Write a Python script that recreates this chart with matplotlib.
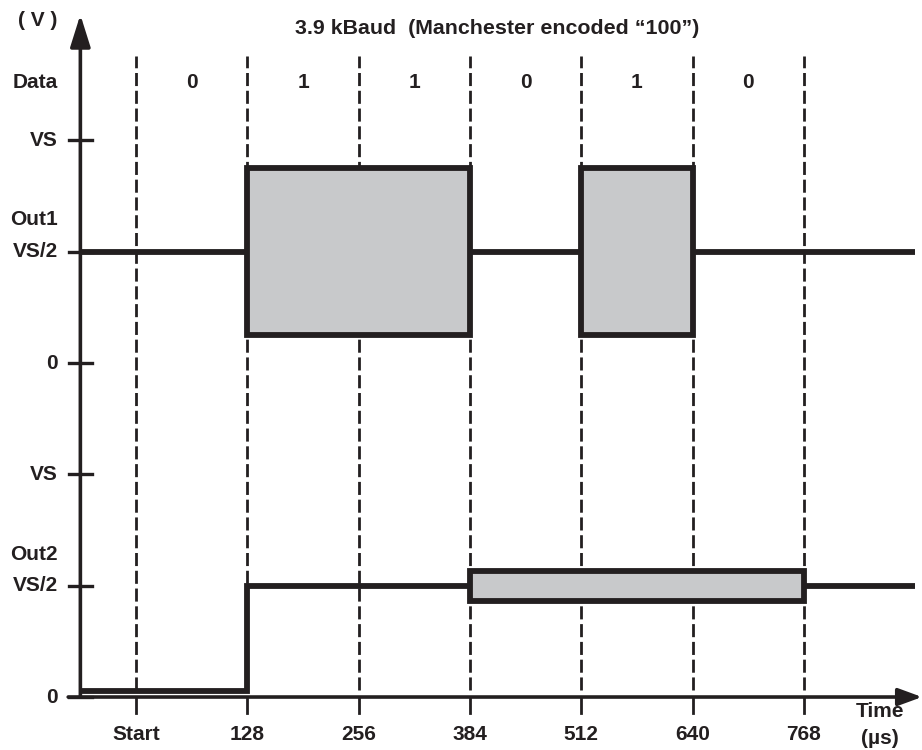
import matplotlib.pyplot as plt
from matplotlib.patches import Rectangle

plt.rcParams['font.family'] = ['Liberation Sans', 'DejaVu Sans']
plt.rcParams['font.weight'] = 'bold'

ink = '#231f20'
fill = '#c8c9cb'

# time axis (µs)
bit_edges = [0, 128, 256, 384, 512, 640, 768]
tick_labels = ['Start', '128', '256', '384', '512', '640', '768']
data_bits = ['0', '1', '1', '0', '1', '0']

# vertical levels (Out2 at 0..2, Out1 at 3..5)
y_levels = [0, 1, 2, 3, 4, 5]
y_labels = ['0', 'VS/2', 'VS', '0', 'VS/2', 'VS']

t_axis = -64
t_end = 896

out1_mid = 4.0
out1_swing = 0.75
out1_windows = [(128, 384), (512, 640)]

out2_low = 0.05
out2_mid = 1.0
out2_step = 128
out2_swing = 0.135
out2_window = (384, 768)

fs = 15

fig = plt.figure(figsize=(9.22, 7.5), dpi=100)
ax = fig.add_axes([0, 0, 1, 1])
ax.set_xlim(-156.4, 903.7)
ax.set_ylim(-0.476, 6.262)
ax.axis('off')

# dashed bit boundaries
for t in bit_edges:
    ax.plot([t, t], [0.06, 5.76], color=ink, lw=2.0, dashes=(4.7, 1.7), zorder=1)

# axes with arrows
ax.annotate('', xy=(t_axis, 6.13), xytext=(t_axis, 0),
            arrowprops=dict(arrowstyle='-|>,head_length=0.7,head_width=0.22',
                            color=ink, lw=2.6, mutation_scale=28, shrinkA=0, shrinkB=0))
ax.annotate('', xy=(903.7, 0), xytext=(-78, 0),
            arrowprops=dict(arrowstyle='-|>,head_length=0.6,head_width=0.22',
                            color=ink, lw=2.6, mutation_scale=24, shrinkA=0, shrinkB=0))

# y ticks
for y, lab in zip(y_levels, y_labels):
    ax.plot([t_axis - 13, t_axis + 13], [y, y], color=ink, lw=2.4, zorder=3)
    ax.text(-89.7, y, lab, ha='right', va='center', fontsize=fs, color=ink)

# x ticks
for t, lab in zip(bit_edges, tick_labels):
    ax.plot([t, t], [0, -0.145], color=ink, lw=2.0, zorder=3)
    ax.text(t, -0.335, lab, ha='center', va='center', fontsize=fs, color=ink)

ax.text(855, -0.13, 'Time', ha='center', va='center', fontsize=fs, color=ink)
ax.text(855, -0.375, '(µs)', ha='center', va='center', fontsize=fs, color=ink)
ax.text(-112.7, 6.08, '( V )', ha='center', va='center', fontsize=fs, color=ink)
ax.text(-89.7, 5.517, 'Data', ha='right', va='center', fontsize=fs, color=ink)
ax.text(-89.7, 4.286, 'Out1', ha='right', va='center', fontsize=fs, color=ink)
ax.text(-89.7, 1.276, 'Out2', ha='right', va='center', fontsize=fs, color=ink)
ax.text(415, 6.01, '3.9 kBaud  (Manchester encoded \u201c100\u201d)',
        ha='center', va='center', fontsize=15.4, color=ink)

# data bits
for i, b in enumerate(data_bits):
    mid = (bit_edges[i] + bit_edges[i + 1]) / 2
    ax.text(mid, 5.517, b, ha='center', va='center', fontsize=fs, color=ink)

sig_lw = 4.2

# Out1
out1_x = [t_axis]
for a, b in out1_windows:
    out1_x += [a, b]
out1_x.append(t_end)
for i in range(0, len(out1_x), 2):
    ax.plot([out1_x[i], out1_x[i + 1]], [out1_mid, out1_mid], color=ink,
            lw=sig_lw, solid_capstyle='butt', zorder=4)
for a, b in out1_windows:
    ax.add_patch(Rectangle((a, out1_mid - out1_swing), b - a, 2 * out1_swing,
                           facecolor=fill, edgecolor=ink, lw=sig_lw, zorder=4,
                           joinstyle='miter'))

# Out2
ax.plot([t_axis, out2_step, out2_step, out2_window[0]],
        [out2_low, out2_low, out2_mid, out2_mid], color=ink, lw=sig_lw,
        solid_joinstyle='miter', solid_capstyle='butt', zorder=4)
ax.plot([out2_window[1], t_end], [out2_mid, out2_mid], color=ink, lw=sig_lw,
        solid_capstyle='butt', zorder=4)
a, b = out2_window
ax.add_patch(Rectangle((a, out2_mid - out2_swing), b - a, 2 * out2_swing,
                       facecolor=fill, edgecolor=ink, lw=sig_lw, zorder=4,
                       joinstyle='miter'))

fig.savefig('out.png', dpi=100)
